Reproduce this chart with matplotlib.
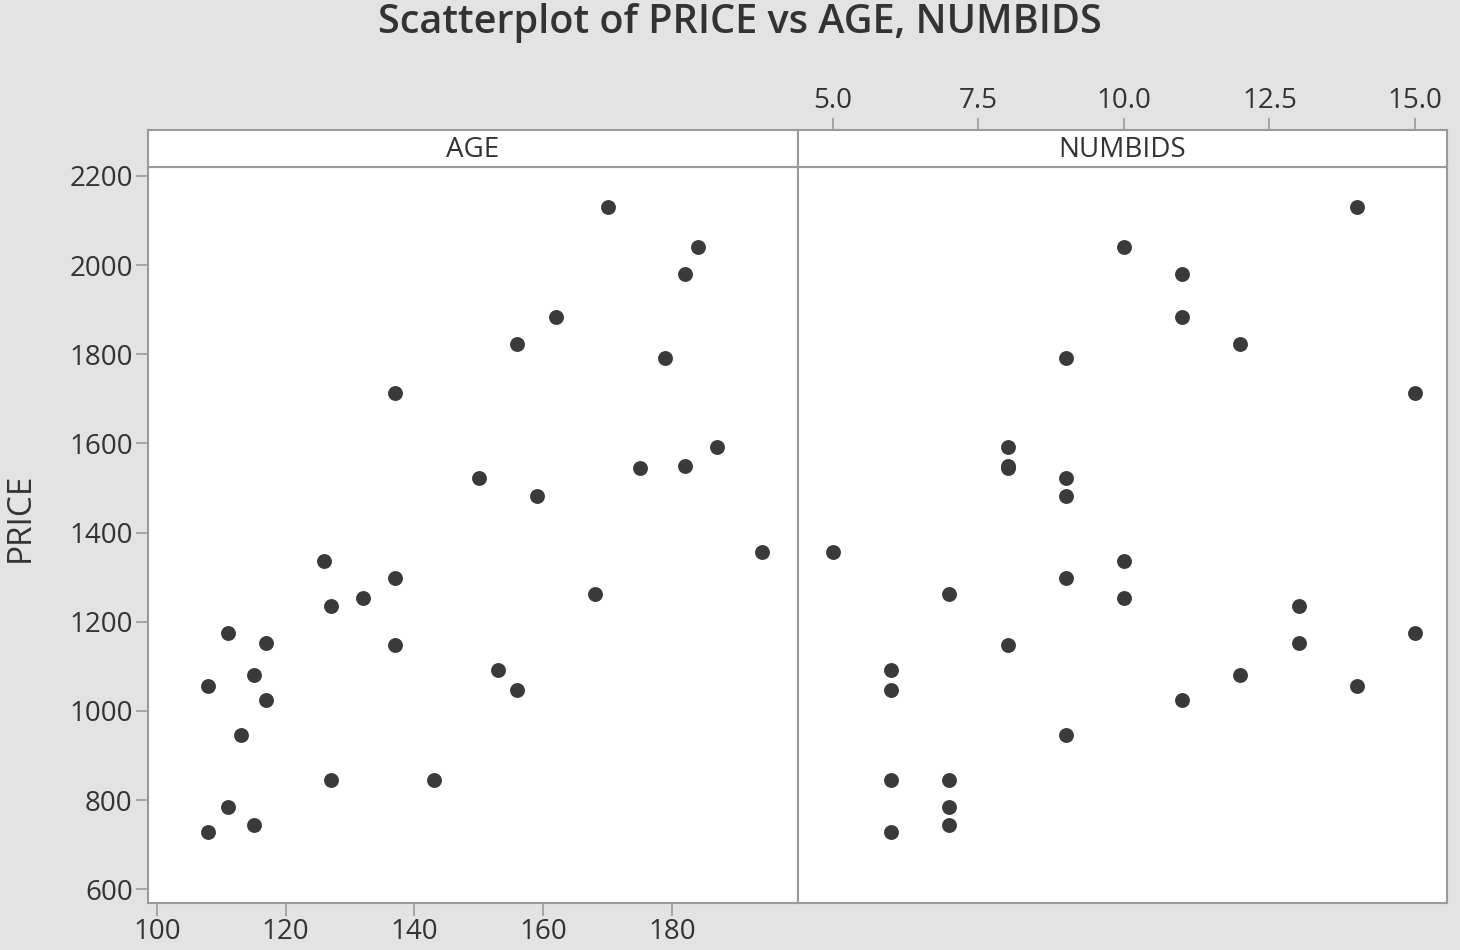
import matplotlib.pyplot as plt

age = [127, 115, 127, 150, 156, 182, 156, 132, 137, 113, 137, 117, 137, 153, 117, 126,
       170, 182, 162, 184, 143, 159, 108, 175, 108, 179, 111, 187, 111, 115, 194, 168]
numbids = [13, 12, 7, 9, 6, 11, 12, 10, 9, 9, 15, 11, 8, 6, 13, 10,
           14, 8, 11, 10, 6, 9, 14, 8, 6, 9, 15, 8, 7, 7, 5, 7]
price = [1235, 1080, 845, 1522, 1047, 1979, 1822, 1253, 1297, 946, 1713, 1024, 1147, 1092, 1152, 1336,
         2131, 1550, 1884, 2041, 845, 1483, 1055, 1545, 729, 1792, 1175, 1593, 785, 744, 1356, 1262]

age_ticks = [100, 120, 140, 160, 180]
bid_ticks = [5.0, 7.5, 10.0, 12.5, 15.0]
price_ticks = [600, 800, 1000, 1200, 1400, 1600, 1800, 2000, 2200]

plt.rcParams['font.family'] = ['Open Sans', 'DejaVu Sans']
bg = '#e3e3e3'
edge = '#9a9a9a'
txt = '#333333'
dot = '#3a3a3a'

W, H = 1460, 950
fig = plt.figure(figsize=(W / 100, H / 100), dpi=100, facecolor=bg)

def box(x0, y0, x1, y1):
    return [x0 / W, 1 - y1 / H, (x1 - x0) / W, (y1 - y0) / H]

ax1 = fig.add_axes(box(148, 167, 798, 903))
ax2 = fig.add_axes(box(798, 167, 1447, 903), sharey=ax1)
st1 = fig.add_axes(box(148, 130, 798, 167))
st2 = fig.add_axes(box(798, 130, 1447, 167))

ax1.scatter(age, price, s=115, color=dot, zorder=3, linewidths=0)
ax2.scatter(numbids, price, s=115, color=dot, zorder=3, linewidths=0)

ax1.set_xlim(98.6, 199.6)
ax2.set_xlim(4.4, 15.55)
ax1.set_ylim(569, 2220)

for ax in (ax1, ax2, st1, st2):
    ax.set_facecolor('white')
    for sp in ax.spines.values():
        sp.set_color(edge)
        sp.set_linewidth(1.5)

ax1.set_xticks(age_ticks)
ax1.set_yticks(price_ticks)
ax1.tick_params(axis='both', colors=edge, labelcolor=txt, labelsize=20, length=9, width=1.2, pad=2)
ax2.tick_params(left=False, labelleft=False, bottom=False, labelbottom=False)

st1.set_xticks([])
st1.set_yticks([])
st1.text(0.5, 0.45, 'AGE', transform=st1.transAxes, ha='center', va='center', fontsize=20, color=txt)

st2.set_xlim(4.4, 15.55)
st2.set_yticks([])
st2.xaxis.tick_top()
st2.set_xticks(bid_ticks)
st2.set_xticklabels([f'{t:.1f}' for t in bid_ticks])
st2.tick_params(axis='x', colors=edge, labelcolor=txt, labelsize=20, length=9, width=1.2, pad=2)
st2.text(0.5, 0.45, 'NUMBIDS', transform=st2.transAxes, ha='center', va='center', fontsize=20, color=txt)

fig.text(20 / W, 1 - 517 / H, 'PRICE', rotation=90, ha='center', va='center', fontsize=24, color=txt)
fig.text(740 / W, 1 - 23 / H, 'Scatterplot of PRICE vs AGE, NUMBIDS', ha='center', va='center',
         fontsize=28.5, fontweight='semibold', color=txt)

fig.savefig('out.png', dpi=100, facecolor=bg)
